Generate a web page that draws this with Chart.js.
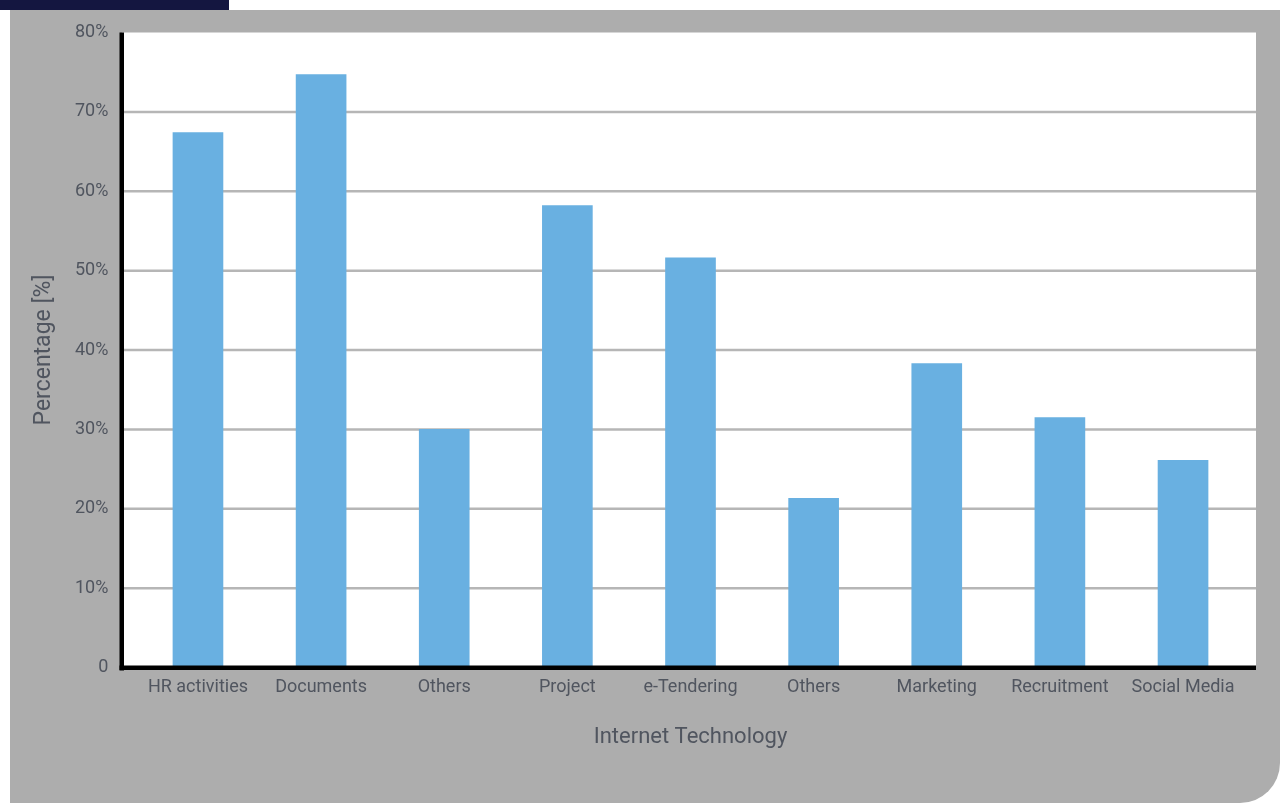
<!DOCTYPE html>
<html>
<head>
<meta charset="utf-8">
<script src="https://cdn.jsdelivr.net/npm/chart.js@4.4.0/dist/chart.umd.min.js"></script>
<style>
	html, body { margin: 0; padding: 0; background: #fff; }
	canvas { display: block; }
</style>
</head>
<body>
<canvas id="myChart" width="1286" height="803"></canvas>
<script>
// du lieu doc tu hinh
var categories = ["HR activities", "Documents", "Others", "Project", "e-Tendering", "Others", "Marketing", "Recruitment", "Social Media"];
var percentValues = [67.4, 74.7, 30.0, 58.2, 51.6, 21.3, 38.3, 31.5, 26.1];
var yTickValues = [0, 10, 20, 30, 40, 50, 60, 70, 80];

var textColor = '#50555f';
var fontName = "Roboto, 'Noto Sans', sans-serif";

// ve nen xam, khung trang, luoi, truc
var bgPlugin = {
	id: 'bgPlugin',
	beforeDraw: function (chart) {
		var c = chart.ctx;
		c.save();
		c.fillStyle = '#ffffff';
		c.fillRect(0, 0, chart.width, chart.height);
		c.fillStyle = '#141640';
		c.fillRect(0, 0, 229, 10);
		// panel xam, bo goc duoi phai
		c.fillStyle = '#adadad';
		c.beginPath();
		c.moveTo(10, 10);
		c.lineTo(1280, 10);
		c.lineTo(1280, 763);
		c.arcTo(1280, 803, 1240, 803, 40);
		c.lineTo(10, 803);
		c.closePath();
		c.fill();
		// vung ve trang
		var y = chart.scales.y;
		var yTop = y.getPixelForValue(80);
		c.fillStyle = '#ffffff';
		c.fillRect(122, yTop, 1134, y.getPixelForValue(0) - yTop);
		c.restore();
	},
	beforeDatasetsDraw: function (chart) {
		var c = chart.ctx;
		var y = chart.scales.y;
		c.save();
		c.strokeStyle = '#b6b6b6';
		c.lineWidth = 2.5;
		yTickValues.forEach(function (v) {
			if (v === 0 || v === 80) return;
			var py = y.getPixelForValue(v);
			c.beginPath();
			c.moveTo(122, py);
			c.lineTo(1256, py);
			c.stroke();
		});
		c.restore();
	},
	afterDatasetsDraw: function (chart) {
		var c = chart.ctx;
		var y = chart.scales.y;
		var y0 = y.getPixelForValue(0);
		var yTop = y.getPixelForValue(80);
		c.save();
		c.fillStyle = '#000000';
		c.fillRect(119.5, yTop, 4.5, y0 - yTop + 3);
		c.fillRect(119.5, y0 - 2, 1136.5, 4.5);
		c.restore();
	}
};

var ctx = document.getElementById("myChart").getContext("2d");
var myChart = new Chart(ctx, {
	type: 'bar',
	data: {
		labels: categories,
		datasets: [{
			label: 'Percentage',
			data: percentValues,
			backgroundColor: '#69b0e1',
			borderWidth: 0,
			barThickness: 50
		}]
	},
	options: {
		responsive: false,
		animation: false,
		devicePixelRatio: 1,
		layout: {
			padding: { left: 0, right: 41.4, top: 32.5, bottom: 0 }
		},
		plugins: {
			legend: { display: false },
			tooltip: { enabled: false }
		},
		scales: {
			x: {
				afterFit: function (s) { s.height = 135.5; },
				grid: { display: false, drawTicks: false },
				border: { display: false },
				ticks: {
					color: textColor,
					font: { family: fontName, size: 18 },
					padding: 9,
					maxRotation: 0,
					autoSkip: false
				},
				title: {
					display: true,
					text: 'Internet Technology',
					color: textColor,
					font: { family: fontName, size: 22 },
					padding: { top: 0, bottom: 52.8 }
				}
			},
			y: {
				min: 0,
				max: 80,
				afterFit: function (s) {
					s.width = 136.4;
					// khong de padding cua nhan day vung ve xuong
					s.paddingTop = 10;
					s.paddingBottom = 10;
				},
				afterBuildTicks: function (s) {
					s.ticks = yTickValues.map(function (v) { return { value: v }; });
				},
				grid: { display: false, drawTicks: false },
				border: { display: false },
				ticks: {
					color: textColor,
					font: { family: fontName, size: 18 },
					padding: 28,
					callback: function (value) {
						return value === 0 ? '0' : value + '%';
					}
				},
				title: {
					display: true,
					text: 'Percentage [%]',
					color: textColor,
					font: { family: fontName, size: 23 },
					padding: { top: 30.3, bottom: 0 }
				}
			}
		}
	},
	plugins: [bgPlugin]
});
</script>
</body>
</html>
